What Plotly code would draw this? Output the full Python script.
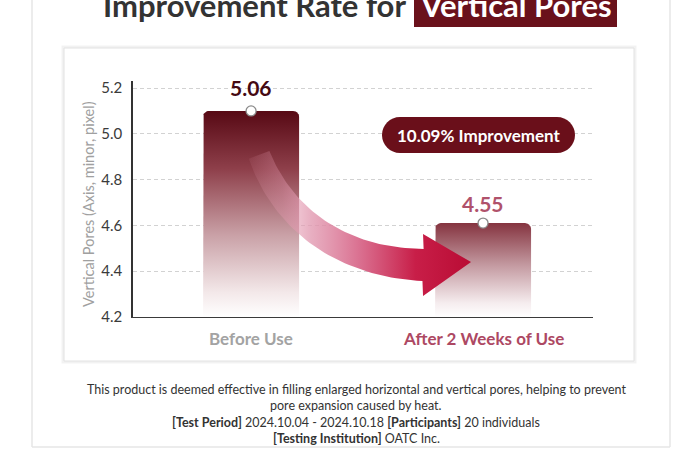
import numpy as np
import plotly.graph_objects as go

# ---------------- data ----------------
categories = ["Before Use", "After 2 Weeks of Use"]
value_labels = ["5.06", "4.55"]          # printed values
bar_tops = [5.10, 4.61]                  # bar heights as drawn in the picture
y_ticks = [4.2, 4.4, 4.6, 4.8, 5.0, 5.2]
improvement_label = "10.09% Improvement"
title_left = "Improvement Rate for"
title_right = "Vertical Pores"
y_title = "Vertical Pores (Axis, minor, pixel)"
notes = [
    "This product is deemed effective in filling enlarged horizontal and vertical pores, helping to prevent",
    "pore expansion caused by heat.",
    "<b>[Test Period]</b> 2024.10.04 - 2024.10.18 <b>[Participants]</b> 20 individuals",
    "<b>[Testing Institution]</b> OATC Inc.",
]

# ---------------- geometry helpers ----------------
W, H = 700, 465
L, R, T, B = 133, 593, 81, 317
XR = [-0.509, 1.474]
YR = [4.2, 5.2306]

def x2px(x): return L + (x - XR[0]) / (XR[1] - XR[0]) * (R - L)
def y2py(y): return B - (y - YR[0]) / (YR[1] - YR[0]) * (B - T)
def px2x(p): return XR[0] + (p - L) / (R - L) * (XR[1] - XR[0])
def py2y(p): return YR[0] + (B - p) / (B - T) * (YR[1] - YR[0])
def pxp(p): return (p - L) / (R - L)
def pyp(p): return (B - p) / (B - T)

FONT = "Lato, 'Noto Sans', sans-serif"
NOTE_FONT = "Lato, 'Liberation Sans', sans-serif"

fig = go.Figure()

# ---------------- bars (rounded, gradient) ----------------
bar_half = 0.207
bar_scales = [
    [[0, "#ffffff"], [0.12, "#f3e8e9"], [0.4, "#c9a0a6"], [0.72, "#8e3f4a"], [1, "#570914"]],
    [[0, "#ffffff"], [0.15, "#f5ecee"], [0.55, "#c49aa1"], [1, "#853440"]],
]
rad = 6
for i, top in enumerate(bar_tops):
    xl, xr = x2px(i - bar_half), x2px(i + bar_half)
    yt = y2py(top)
    pts = [(xl, B)]
    for a in np.linspace(np.pi, np.pi / 2, 8):
        pts.append((xl + rad + rad * np.cos(a), yt + rad - rad * np.sin(a)))
    for a in np.linspace(np.pi / 2, 0, 8):
        pts.append((xr - rad + rad * np.cos(a), yt + rad - rad * np.sin(a)))
    pts.append((xr, B))
    pts.append((xl, B))
    fig.add_trace(go.Scatter(
        x=[px2x(p[0]) for p in pts], y=[py2y(p[1]) for p in pts],
        mode="lines", line=dict(width=0), fill="toself",
        fillgradient=dict(type="vertical", colorscale=bar_scales[i], start=YR[0], stop=top),
        hoverinfo="skip", showlegend=False))

# ---------------- curved arrow from bar 1 to bar 2 ----------------
bx1, by1 = x2px(0), y2py(bar_tops[0])
bx2l, by2 = x2px(1 - bar_half), y2py(bar_tops[1])
P0 = np.array([bx1 + 8, by1 + 44])
P3 = np.array([bx2l - 12, by2 + 42])
P1 = np.array([bx1 + 32, by1 + 108])
P2 = np.array([bx1 + 89, P3[1] - 3])
t = np.linspace(0, 1, 50)[:, None]
C = (1 - t) ** 3 * P0 + 3 * (1 - t) ** 2 * t * P1 + 3 * (1 - t) * t ** 2 * P2 + t ** 3 * P3
D = 3 * (1 - t) ** 2 * (P1 - P0) + 6 * (1 - t) * t * (P2 - P1) + 3 * t ** 2 * (P3 - P2)
Nrm = np.stack([-D[:, 1], D[:, 0]], axis=1) / np.linalg.norm(D, axis=1)[:, None]
wid = (11 + 5 * t)
upper = C - wid * Nrm
lower = C + wid * Nrm
head = [(P3[0], P3[1] - 31), (P3[0] + 48, P3[1] - 3), (P3[0], P3[1] + 31)]
poly = list(map(tuple, upper)) + head + list(map(tuple, lower[::-1])) + [tuple(upper[0])]
fig.add_trace(go.Scatter(
    x=[px2x(p[0]) for p in poly], y=[py2y(p[1]) for p in poly],
    mode="lines", line=dict(width=0), fill="toself",
    fillgradient=dict(type="horizontal", colorscale=[
        [0, "rgba(235,160,180,0.08)"], [0.15, "rgba(230,155,178,0.35)"],
        [0.28, "rgba(226,155,178,0.8)"], [0.5, "rgba(216,104,138,0.95)"],
        [0.75, "rgba(200,30,72,1)"], [1, "rgba(185,12,52,1)"]]),
    hoverinfo="skip", showlegend=False))

# ---------------- top markers ----------------
fig.add_trace(go.Scatter(
    x=[0, 1], y=bar_tops, mode="markers",
    marker=dict(size=10, color="white", line=dict(color="#8a8a8a", width=1.3)),
    hoverinfo="skip", showlegend=False))

# ---------------- annotations ----------------
ann = []
label_colors = ["#450912", "#b0526b"]
label_shift = [23, 20]
for i, lab in enumerate(value_labels):
    ann.append(dict(x=i, y=bar_tops[i], xref="x", yref="y", text=f"<b>{lab}</b>",
                    showarrow=False, yshift=label_shift[i], yanchor="middle",
                    font=dict(family=FONT, size=21, color=label_colors[i])))
cat_colors = ["#a3a3a3", "#ad4863"]
for i, c in enumerate(categories):
    ann.append(dict(x=i, y=pyp(338), xref="x", yref="paper", text=f"<b>{c}</b>",
                    showarrow=False, yanchor="middle",
                    font=dict(family=FONT, size=17, color=cat_colors[i])))
ann.append(dict(x=pxp(88), y=pyp(204), xref="paper", yref="paper", text=y_title,
                textangle=-90, showarrow=False, xanchor="center", yanchor="middle",
                font=dict(family=FONT, size=14.5, color="#a0a0a0")))
ann.append(dict(x=pxp(479), y=pyp(135), xref="paper", yref="paper",
                text=f"<b>{improvement_label}</b>", showarrow=False,
                xanchor="center", yanchor="middle",
                font=dict(family=FONT, size=17, color="white")))
ann.append(dict(x=pxp(408), y=pyp(5), xref="paper", yref="paper",
                text=f"<b>{title_left}</b>", showarrow=False, xanchor="right", yanchor="middle",
                font=dict(family=FONT, size=31, color="#333333")))
ann.append(dict(x=pxp(516), y=pyp(5), xref="paper", yref="paper",
                text=f"<b>{title_right}</b>", showarrow=False, xanchor="center", yanchor="middle",
                font=dict(family=FONT, size=31, color="white")))
note_y = [389, 405.5, 422, 438]
for s, yy in zip(notes, note_y):
    ann.append(dict(x=pxp(356), y=pyp(yy), xref="paper", yref="paper", text=s,
                    showarrow=False, xanchor="center", yanchor="middle",
                    font=dict(family=NOTE_FONT, size=12.5, color="#333333")))

# ---------------- shapes ----------------
shapes = []
for xx in (32, 670):
    shapes.append(dict(type="line", xref="paper", yref="paper", x0=pxp(xx), x1=pxp(xx),
                       y0=pyp(-5), y1=pyp(447), line=dict(color="#e6e6e6", width=1.5), layer="below"))
shapes.append(dict(type="line", xref="paper", yref="paper", x0=pxp(32), x1=pxp(670),
                   y0=pyp(447), y1=pyp(447), line=dict(color="#e6e6e6", width=1.5), layer="below"))
shapes.append(dict(type="rect", xref="paper", yref="paper", x0=pxp(63), x1=pxp(635),
                   y0=pyp(362), y1=pyp(47), line=dict(color="rgba(0,0,0,0.05)", width=3), layer="below"))
shapes.append(dict(type="rect", xref="paper", yref="paper", x0=pxp(64), x1=pxp(634),
                   y0=pyp(361), y1=pyp(48), line=dict(color="#e2e2e2", width=1), fillcolor="white", layer="below"))
shapes.append(dict(type="rect", xref="paper", yref="paper", x0=pxp(414), x1=pxp(617),
                   y0=pyp(27), y1=pyp(-5), line=dict(width=0), fillcolor="#6a111b", layer="below"))
x0, x1, y0, y1 = 382, 575, 117, 153
r = (y1 - y0) / 2
k = 0.5523 * r
def P(px, py): return f"{pxp(px):.5f},{pyp(py):.5f}"
path = (f"M {P(x0 + r, y0)} L {P(x1 - r, y0)} "
        f"C {P(x1 - r + k, y0)} {P(x1, y0 + r - k)} {P(x1, y0 + r)} "
        f"C {P(x1, y1 - r + k)} {P(x1 - r + k, y1)} {P(x1 - r, y1)} "
        f"L {P(x0 + r, y1)} "
        f"C {P(x0 + r - k, y1)} {P(x0, y1 - r + k)} {P(x0, y1 - r)} "
        f"C {P(x0, y0 + r - k)} {P(x0 + r - k, y0)} {P(x0 + r, y0)} Z")
shapes.append(dict(type="path", xref="paper", yref="paper", path=path,
                   fillcolor="#6a0f1a", line=dict(width=0), layer="above"))

fig.update_layout(
    width=W, height=H,
    margin=dict(l=L, r=W - R, t=T, b=H - B, pad=0),
    paper_bgcolor="white", plot_bgcolor="rgba(0,0,0,0)",
    showlegend=False, annotations=ann, shapes=shapes,
    xaxis=dict(range=XR, showgrid=False, zeroline=False, showticklabels=False,
               showline=True, linecolor="#3a3a3a", linewidth=1.3, fixedrange=True),
    yaxis=dict(range=YR, tickvals=y_ticks, tickformat=".1f", showgrid=True,
               gridcolor="#d2d2d2", griddash="4px,3px", gridwidth=1, zeroline=False,
               showline=True, linecolor="#333333", linewidth=1.5, ticks="",
               ticklabelstandoff=6,
               tickfont=dict(family=FONT, size=15, color="#3a3a3a"), fixedrange=True),
)

fig.write_html("out.html")
